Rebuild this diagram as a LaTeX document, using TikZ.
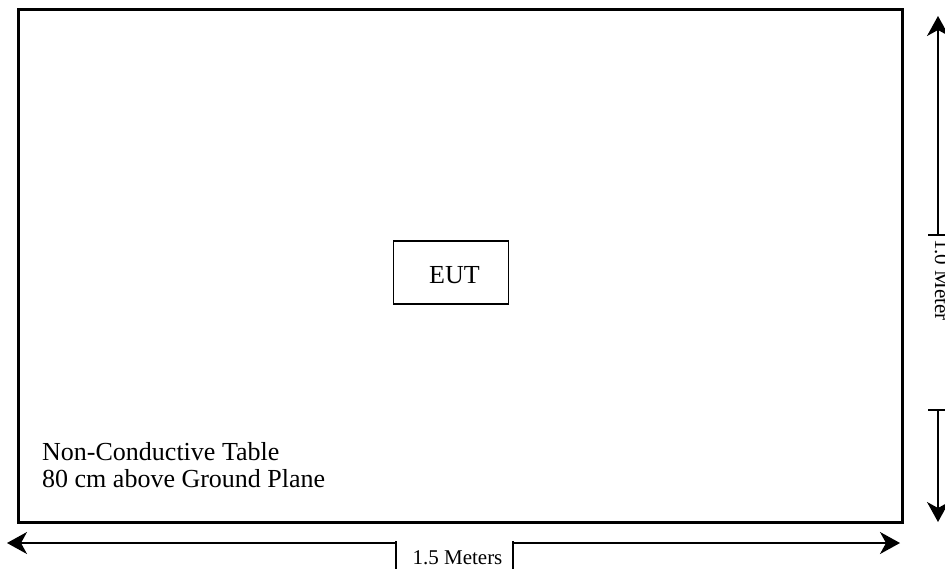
\documentclass[tikz,border=0pt]{standalone}
\usepackage{fontspec}
\setmainfont{Liberation Serif}
\usetikzlibrary{arrows.meta}
\begin{document}
\begin{tikzpicture}[x=1pt,y=-1pt,
  frame/.style={draw=black,line width=3pt,inner sep=0pt,outer sep=0pt},
  eutbox/.style={draw=black,line width=1.8pt,inner sep=0pt,outer sep=0pt},
  labbox/.style={inner sep=0pt,outer sep=0pt},
  dimline/.style={line width=1.5pt,-{Stealth[length=20pt,width=22pt,inset=6pt]}},
  tickline/.style={line width=1.5pt},
  bigtext/.style={font=\fontsize{26}{27}\selectfont,inner sep=0pt},
  smalltext/.style={font=\fontsize{21}{24}\selectfont,inner sep=0pt}]
\useasboundingbox (0,0) rectangle (945,573);
% table
\node[frame,minimum width=884pt,minimum height=513pt] (table) at (460.5,266) {};
% EUT
\node[eutbox,minimum width=115pt,minimum height=63pt] (eut) at (451,272.5) {};
\node[bigtext,anchor=base] (euttext) at (454.5,283) {EUT};
% table text
\node[bigtext,anchor=base west] (l1) at (42,460) {Non-Conductive Table};
\node[bigtext,anchor=base west] (l2) at (42,487) {80 cm above Ground Plane};
% horizontal dimension
\coordinate (ltip) at (7,543);
\coordinate (rtip) at (900,543);
\node[labbox,minimum width=117pt,minimum height=28pt] (hlab) at (454.5,555) {};
\node[smalltext,anchor=base] (htext) at (457.5,564) {1.5 Meters};
\draw[tickline] (hlab.north west) -- (hlab.south west);
\draw[tickline] (hlab.north east) -- (hlab.south east);
\draw[dimline] (hlab.west |- ltip) -- (ltip);
\draw[dimline] (hlab.east |- rtip) -- (rtip);
% vertical dimension
\coordinate (ttip) at (938,16);
\coordinate (btip) at (938,522);
\node[labbox,minimum width=29pt,minimum height=175pt] (vlab) at (942.5,322.5) {};
\node[smalltext,rotate=-90,anchor=base] (vtext) at (935,280) {1.0 Meter};
\draw[tickline] (vlab.north west) -- (vlab.north east);
\draw[tickline] (vlab.south west) -- (vlab.south east);
\draw[dimline] (vlab.north -| ttip) -- (ttip);
\draw[dimline] (vlab.south -| btip) -- (btip);
\end{tikzpicture}
\end{document}
